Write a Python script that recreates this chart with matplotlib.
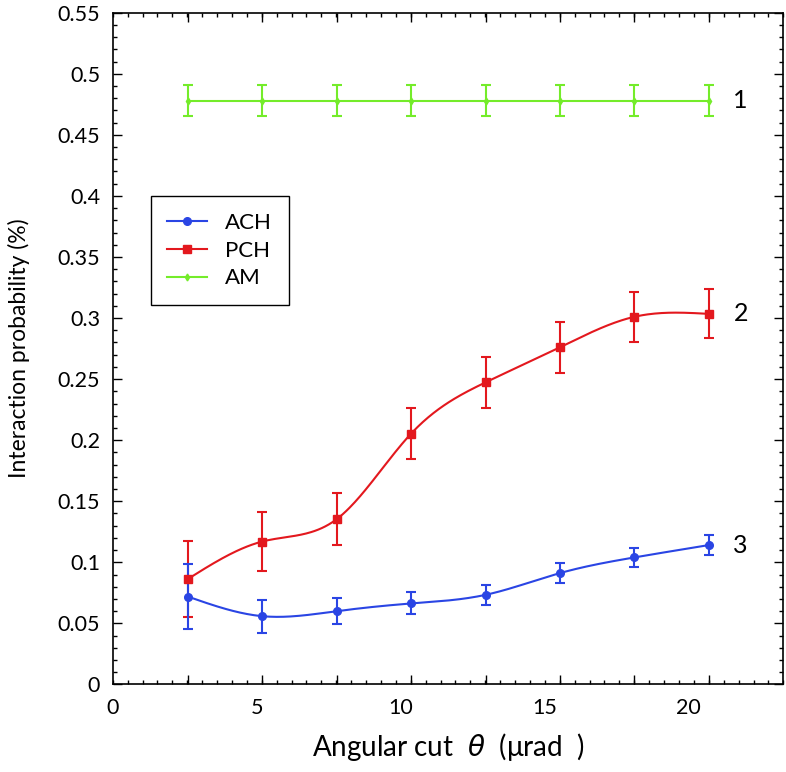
import numpy as np
import matplotlib
matplotlib.use('Agg')
import matplotlib.pyplot as plt
from matplotlib.ticker import MultipleLocator, FuncFormatter

plt.rcParams['font.family'] = ['Lato', 'DejaVu Sans']
plt.rcParams['mathtext.fontset'] = 'dejavusans'

# data
angle = [2.60, 5.19, 7.78, 10.36, 12.95, 15.53, 18.11, 20.69]
ach = [0.0720, 0.0559, 0.0600, 0.0663, 0.0734, 0.0912, 0.1040, 0.1141]
ach_err = [0.027, 0.0136, 0.0105, 0.0090, 0.0083, 0.0080, 0.0080, 0.0080]
pch = [0.0862, 0.1170, 0.1354, 0.2054, 0.2474, 0.2761, 0.3010, 0.3034]
pch_err = [0.031, 0.024, 0.021, 0.021, 0.021, 0.021, 0.0207, 0.020]
am = [0.478] * 8
am_err = [0.0127] * 8
curve_labels = ['1', '2', '3']

c_ach = '#2a45e4'
c_pch = '#e3181e'
c_am = '#74ec2a'


def smooth(x, y, n=300):
    # natural cubic spline through the points (line shape only)
    x = np.asarray(x, float)
    y = np.asarray(y, float)
    h = np.diff(x)
    k = len(x)
    A = np.zeros((k, k))
    b = np.zeros(k)
    A[0, 0] = A[-1, -1] = 1
    for i in range(1, k - 1):
        A[i, i - 1] = h[i - 1]
        A[i, i] = 2 * (h[i - 1] + h[i])
        A[i, i + 1] = h[i]
        b[i] = 6 * ((y[i + 1] - y[i]) / h[i] - (y[i] - y[i - 1]) / h[i - 1])
    m = np.linalg.solve(A, b)
    xs = np.linspace(x[0], x[-1], n)
    j = np.clip(np.searchsorted(x, xs) - 1, 0, k - 2)
    t0 = x[j + 1] - xs
    t1 = xs - x[j]
    hj = h[j]
    ys = (m[j] * t0**3 + m[j + 1] * t1**3) / (6 * hj) \
        + (y[j] / hj - m[j] * hj / 6) * t0 + (y[j + 1] / hj - m[j + 1] * hj / 6) * t1
    return xs, ys


fig = plt.figure(figsize=(7.86, 7.72), dpi=100)
ax = fig.add_axes([0.1434, 0.1134, 0.8532, 0.8702])

series = [
    (am, am_err, c_am, 'd', 3.5, 'AM'),
    (pch, pch_err, c_pch, 's', 5.5, 'PCH'),
    (ach, ach_err, c_ach, 'o', 5.5, 'ACH'),
]
handles = {}
for vals, err, col, mk, ms, name in series:
    xs, ys = smooth(angle, vals)
    ax.plot(xs, ys, color=col, lw=1.5, zorder=2)
    ax.errorbar(angle, vals, yerr=err, fmt='none', ecolor=col, elinewidth=1.5,
                capsize=3.5, capthick=1.5, zorder=3)
    ax.plot(angle, vals, ls='none', marker=mk, ms=ms, color=col, zorder=4)
    handles[name], = ax.plot([], [], color=col, lw=1.5, marker=mk, ms=ms)

for lab, vals in zip(curve_labels, [am, pch, ach]):
    ax.annotate(lab, (angle[-1], vals[-1]), xytext=(23, 0), textcoords='offset points',
                ha='center', va='center', fontsize=18)

ax.set_xlim(0, 23.28)
ax.set_ylim(0, 0.55)
ax.set_xticks(angle)
ax.xaxis.set_minor_locator(MultipleLocator(23.28 / 45))
ax.yaxis.set_major_locator(MultipleLocator(0.05))
ax.yaxis.set_minor_locator(MultipleLocator(0.01))
ax.yaxis.set_major_formatter(FuncFormatter(lambda v, p: '%g' % round(v, 3)))
ax.tick_params(axis='x', which='both', labelbottom=False)
ax.tick_params(which='both', direction='in', top=True, right=True, width=1.0)
ax.tick_params(which='major', length=6.5)
ax.tick_params(which='minor', length=3.2)
ax.tick_params(axis='y', labelsize=15.5, pad=9)
for s in ax.spines.values():
    s.set_linewidth(1.2)

sec = ax.secondary_xaxis('bottom')
sec.set_xticks([0, 5, 10, 15, 20])
sec.tick_params(length=0, labelsize=15.5, pad=10)
sec.spines['bottom'].set_visible(False)
sec.set_xlabel('Angular cut $\\;\\theta\\;$ (μrad  )', fontsize=20, labelpad=9)

ax.set_ylabel('Interaction probability (%)', fontsize=16.5, labelpad=20)

leg = ax.legend([handles['ACH'], handles['PCH'], handles['AM']], ['ACH', 'PCH', 'AM'],
                loc='upper left', bbox_to_anchor=(0.0567, 0.727), borderaxespad=0,
                fontsize=16, fancybox=False, edgecolor='black', framealpha=1,
                handlelength=1.8, handletextpad=0.8, labelspacing=0.35,
                borderpad=0.75)
leg.get_frame().set_linewidth(1.0)

fig.savefig('out.png', dpi=100)
